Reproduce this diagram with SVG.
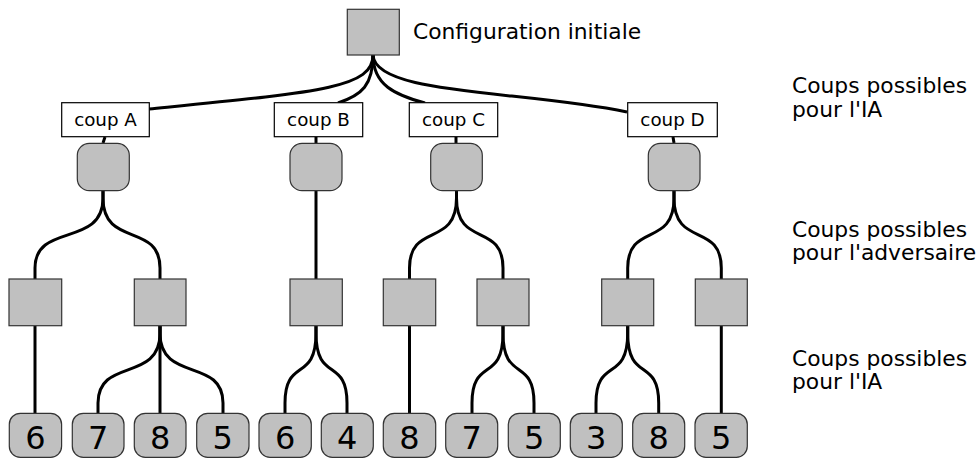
<svg xmlns="http://www.w3.org/2000/svg" width="979" height="461" viewBox="0 0 979 461">
<style>
text{font-family:"DejaVu Sans",sans-serif;fill:#000}
.sq{fill:#c0c0c0;stroke:#333;stroke-width:1.2}
.box{fill:#fff;stroke:#000;stroke-width:1.2}
.e{fill:none;stroke:#000;stroke-width:3}
.lbl{font-size:21.8px}
.bt{font-size:18.3px;text-anchor:middle}
.lt{font-size:32px;text-anchor:middle}
</style>
<g id="connectors">
<path class="e" d="M373,55 C373,88 320,92 149,109"/>
<path class="e" d="M373,55 C373,85 362,95 338,103"/>
<path class="e" d="M373,55 C373,85 395,95 425,103"/>
<path class="e" d="M373,55 C375,95 520,90 627,112"/>
<path class="e" d="M105,137 L103,143"/>
<path class="e" d="M316,137 L316,143"/>
<path class="e" d="M456,137 L456,143"/>
<path class="e" d="M673,137 L674,143"/>
<path class="e" d="M103,191 V198 C103,248 35,222 35,268 V279"/>
<path class="e" d="M103,191 V198 C103,248 160,222 160,268 V279"/>
<path class="e" d="M316,191 V279"/>
<path class="e" d="M456.5,191 V198 C456.5,248 409.5,222 409.5,268 V279"/>
<path class="e" d="M456.5,191 V198 C456.5,248 503,222 503,268 V279"/>
<path class="e" d="M674,191 V198 C674,248 627.7,222 627.7,268 V279"/>
<path class="e" d="M674,191 V198 C674,248 721.3,222 721.3,268 V279"/>
<path class="e" d="M35,326 V413"/>
<path class="e" d="M160,326 V333 C160,383 98,357 98,403 V413"/>
<path class="e" d="M160,326 V413"/>
<path class="e" d="M160,326 V333 C160,383 223,357 223,403 V413"/>
<path class="e" d="M316,326 V333 C316,383 285,357 285,403 V413"/>
<path class="e" d="M316,326 V333 C316,383 347,357 347,403 V413"/>
<path class="e" d="M409.5,326 V413"/>
<path class="e" d="M503,326 V333 C503,383 472,357 472,403 V413"/>
<path class="e" d="M503,326 V333 C503,383 534,357 534,403 V413"/>
<path class="e" d="M627.7,326 V333 C627.7,383 596,357 596,403 V413"/>
<path class="e" d="M627.7,326 V333 C627.7,383 658.7,357 658.7,403 V413"/>
<path class="e" d="M721.3,326 V413"/>
</g>
<g id="root"><rect class="sq" x="347.3" y="9.3" width="52" height="45.7"/><text class="lbl" x="413" y="38.5">Configuration initiale</text></g>
<g id="coupA"><rect class="box" x="61.7" y="102.7" width="87.6" height="34"/><text class="bt" x="105.5" y="126">coup A</text></g>
<g id="coupB"><rect class="box" x="274.3" y="102.7" width="88.4" height="34"/><text class="bt" x="318.5" y="126">coup B</text></g>
<g id="coupC"><rect class="box" x="409.3" y="102.7" width="88.4" height="34"/><text class="bt" x="453.5" y="126">coup C</text></g>
<g id="coupD"><rect class="box" x="627.7" y="102.7" width="89.6" height="34"/><text class="bt" x="672.5" y="126">coup D</text></g>
<g id="rA"><rect class="sq" x="77.3" y="143.3" width="52" height="47.4" rx="12"/></g>
<g id="rB"><rect class="sq" x="290" y="143.3" width="52" height="47.4" rx="12"/></g>
<g id="rC"><rect class="sq" x="430.7" y="143.3" width="51.6" height="47.4" rx="12"/></g>
<g id="rD"><rect class="sq" x="648.3" y="143.3" width="51.7" height="47.4" rx="12"/></g>
<g id="sA1"><rect class="sq" x="9" y="279" width="52.7" height="46.7"/></g>
<g id="sA2"><rect class="sq" x="134.3" y="279" width="51.7" height="46.7"/></g>
<g id="sB"><rect class="sq" x="290" y="279" width="52.3" height="46.7"/></g>
<g id="sC1"><rect class="sq" x="383.3" y="279" width="52.4" height="46.7"/></g>
<g id="sC2"><rect class="sq" x="477" y="279" width="52" height="46.7"/></g>
<g id="sD1"><rect class="sq" x="601.7" y="279" width="52" height="46.7"/></g>
<g id="sD2"><rect class="sq" x="695.3" y="279" width="52" height="46.7"/></g>
<g id="l1"><rect class="sq" x="9.3" y="413.3" width="52.3" height="44" rx="11"/><text class="lt" x="35.4" y="448.7">6</text></g>
<g id="l2"><rect class="sq" x="72.3" y="413.3" width="51.7" height="44" rx="11"/><text class="lt" x="98.2" y="448.7">7</text></g>
<g id="l3"><rect class="sq" x="134.3" y="413.3" width="51.7" height="44" rx="11"/><text class="lt" x="160.2" y="448.7">8</text></g>
<g id="l4"><rect class="sq" x="196.7" y="413.3" width="52.3" height="44" rx="11"/><text class="lt" x="222.8" y="448.7">5</text></g>
<g id="l5"><rect class="sq" x="259" y="413.3" width="52.3" height="44" rx="11"/><text class="lt" x="285.2" y="448.7">6</text></g>
<g id="l6"><rect class="sq" x="321.3" y="413.3" width="52" height="44" rx="11"/><text class="lt" x="347.3" y="448.7">4</text></g>
<g id="l7"><rect class="sq" x="383.3" y="413.3" width="52.4" height="44" rx="11"/><text class="lt" x="409.5" y="448.7">8</text></g>
<g id="l8"><rect class="sq" x="445.7" y="413.3" width="52" height="44" rx="11"/><text class="lt" x="471.7" y="448.7">7</text></g>
<g id="l9"><rect class="sq" x="508.3" y="413.3" width="52" height="44" rx="11"/><text class="lt" x="534.3" y="448.7">5</text></g>
<g id="l10"><rect class="sq" x="570.3" y="413.3" width="52" height="44" rx="11"/><text class="lt" x="596.3" y="448.7">3</text></g>
<g id="l11"><rect class="sq" x="632.7" y="413.3" width="52" height="44" rx="11"/><text class="lt" x="658.7" y="448.7">8</text></g>
<g id="l12"><rect class="sq" x="695" y="413.3" width="52.3" height="44" rx="11"/><text class="lt" x="721.2" y="448.7">5</text></g>
<g id="labels">
<text class="lbl" x="792" y="93">Coups possibles</text>
<text class="lbl" x="792" y="117">pour l'IA</text>
<text class="lbl" x="792" y="237">Coups possibles</text>
<text class="lbl" x="792" y="260">pour l'adversaire</text>
<text class="lbl" x="792" y="366">Coups possibles</text>
<text class="lbl" x="792" y="389">pour l'IA</text>
</g>
</svg>
